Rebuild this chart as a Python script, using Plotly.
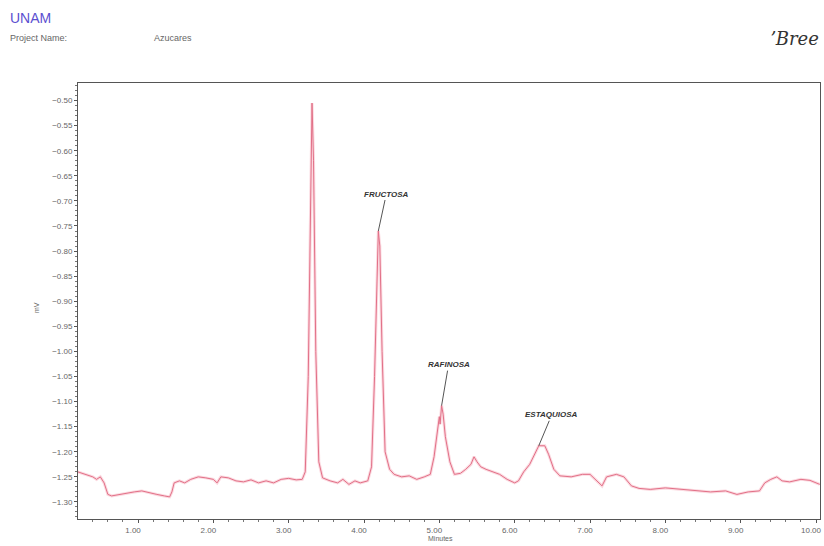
import plotly.graph_objects as go

# ---- data ----
time_min = [0.20, 0.30, 0.40, 0.45, 0.50, 0.55, 0.60, 0.65, 0.75, 0.85, 0.95, 1.05, 1.15, 1.25,
            1.35, 1.42, 1.45, 1.48, 1.55, 1.62, 1.70, 1.80, 1.90, 2.00, 2.05, 2.10, 2.20, 2.30,
            2.40, 2.50, 2.60, 2.70, 2.80, 2.90, 3.00, 3.10, 3.18, 3.22, 3.26, 3.29, 3.31, 3.33,
            3.36, 3.40, 3.45, 3.55, 3.65, 3.72, 3.80, 3.88, 3.95, 4.05, 4.10, 4.14, 4.17, 4.19,
            4.21, 4.24, 4.28, 4.31, 4.34, 4.40, 4.50, 4.60, 4.70, 4.80, 4.88, 4.93, 4.97, 5.00,
            5.01, 5.03, 5.05, 5.08, 5.14, 5.20, 5.28, 5.35, 5.42, 5.46, 5.50, 5.55, 5.62, 5.70,
            5.80, 5.90, 6.00, 6.05, 6.12, 6.20, 6.28, 6.32, 6.40, 6.45, 6.52, 6.60, 6.75, 6.90,
            7.00, 7.10, 7.16, 7.22, 7.35, 7.45, 7.55, 7.65, 7.80, 8.00, 8.20, 8.40, 8.60, 8.80,
            8.95, 9.10, 9.25, 9.32, 9.40, 9.48, 9.55, 9.65, 9.80, 9.92, 10.00, 10.05]
signal_mv = [-1.240, -1.245, -1.250, -1.255, -1.250, -1.262, -1.285, -1.288, -1.285, -1.283,
             -1.280, -1.278, -1.282, -1.285, -1.288, -1.290, -1.280, -1.262, -1.258, -1.262,
             -1.255, -1.250, -1.252, -1.255, -1.262, -1.250, -1.252, -1.258, -1.260, -1.256,
             -1.262, -1.258, -1.262, -1.255, -1.253, -1.256, -1.255, -1.240, -1.050, -0.700,
             -0.505, -0.620, -1.000, -1.220, -1.252, -1.258, -1.262, -1.255, -1.265, -1.258,
             -1.262, -1.258, -1.230, -1.050, -0.850, -0.760, -0.790, -1.000, -1.200, -1.215,
             -1.235, -1.245, -1.250, -1.248, -1.255, -1.250, -1.245, -1.210, -1.160, -1.130,
             -1.145, -1.108, -1.125, -1.170, -1.220, -1.245, -1.243, -1.235, -1.225, -1.210,
             -1.220, -1.230, -1.235, -1.240, -1.245, -1.255, -1.262, -1.258, -1.240, -1.225,
             -1.200, -1.188, -1.188, -1.205, -1.235, -1.248, -1.250, -1.245, -1.245, -1.260,
             -1.268, -1.250, -1.245, -1.250, -1.268, -1.273, -1.275, -1.272, -1.275, -1.278,
             -1.280, -1.278, -1.285, -1.280, -1.278, -1.262, -1.255, -1.250, -1.258, -1.260,
             -1.255, -1.257, -1.262, -1.265]

peak_names = ["FRUCTOSA", "RAFINOSA", "ESTAQUIOSA"]
peak_times = [4.19, 5.03, 6.32]
peak_values = [-0.760, -1.108, -1.188]

x_tick_vals = [1, 2, 3, 4, 5, 6, 7, 8, 9, 10]
y_tick_vals = [-0.50, -0.55, -0.60, -0.65, -0.70, -0.75, -0.80, -0.85, -0.90, -0.95,
               -1.00, -1.05, -1.10, -1.15, -1.20, -1.25, -1.30]

# ---- layout geometry ----
W, H = 824, 546
ML, MR, MT, MB = 78, 4, 83, 27
PW, PH = W - ML - MR, H - MT - MB


def px(xp):
    return (xp - ML) / PW


def py(yp):
    return 1 - (yp - MT) / PH


FONT = "Liberation Sans, Arial, sans-serif"

fig = go.Figure()
fig.add_trace(go.Scatter(x=time_min, y=signal_mv, mode="lines",
                         line=dict(color="rgba(245,160,178,0.40)", width=3),
                         hoverinfo="skip", showlegend=False))
fig.add_trace(go.Scatter(x=time_min, y=signal_mv, mode="lines",
                         line=dict(color="#e27087", width=1),
                         showlegend=False))

offsets = [(8, -37), (7, -41), (13, -31)]
for name, t, v, (ax, ay) in zip(peak_names, peak_times, peak_values, offsets):
    fig.add_annotation(x=t, y=v, text="<b><i>%s</i></b>" % name, showarrow=True,
                       arrowhead=0, arrowwidth=1, arrowcolor="#555", ax=ax, ay=ay,
                       font=dict(family=FONT, size=8, color="#333"))

# header texts
fig.add_annotation(xref="paper", yref="paper", x=px(8), y=py(18), xanchor="left",
                   yanchor="middle", showarrow=False, text="UNAM",
                   font=dict(family=FONT, size=14, color="#5b4fd0"))
fig.add_annotation(xref="paper", yref="paper", x=px(8), y=py(38), xanchor="left",
                   yanchor="middle", showarrow=False, text="Project Name:",
                   font=dict(family=FONT, size=9, color="#666"))
fig.add_annotation(xref="paper", yref="paper", x=px(152), y=py(38), xanchor="left",
                   yanchor="middle", showarrow=False, text="Azucares",
                   font=dict(family=FONT, size=9, color="#666"))
fig.add_annotation(xref="paper", yref="paper", x=px(821), y=py(38), xanchor="right",
                   yanchor="middle", showarrow=False, text="<i>ʼBree</i>",
                   font=dict(family="DejaVu Serif, serif", size=18, color="#333"))
fig.add_annotation(xref="paper", yref="paper", x=px(440), y=py(538), xanchor="center",
                   yanchor="middle", showarrow=False, text="Minutes",
                   font=dict(family=FONT, size=7, color="#666"))
fig.add_annotation(xref="paper", yref="paper", x=px(36), y=py(308), xanchor="center",
                   yanchor="middle", showarrow=False, text="mV", textangle=-90,
                   font=dict(family=FONT, size=7, color="#666"))

fig.update_layout(
    width=W, height=H, margin=dict(l=ML, r=MR, t=MT, b=MB, autoexpand=False),
    paper_bgcolor="white", plot_bgcolor="white",
    font=dict(family=FONT, size=8, color="#666"),
    xaxis=dict(range=[0.2035, 10.053], tickvals=x_tick_vals, tickformat=".2f",
               automargin=False, ticklabeloverflow="allow", ticklabelshift=-5,
               showgrid=False, zeroline=False, showline=True, linecolor="#555",
               linewidth=1, mirror=True, ticks="outside", ticklen=3, tickcolor="#555",
               minor=dict(dtick=0.2, ticks="outside", ticklen=2, tickcolor="#777"),
               tickfont=dict(size=8, color="#666")),
    yaxis=dict(range=[-1.334, -0.465], tickvals=y_tick_vals, tickformat=".2f",
               automargin=False,
               showgrid=False, zeroline=False, showline=True, linecolor="#555",
               linewidth=1, mirror=True, ticks="outside", ticklen=3, tickcolor="#555",
               minor=dict(dtick=0.01, ticks="outside", ticklen=2, tickcolor="#777"),
               tickfont=dict(size=8, color="#666")),
)

fig.write_html("out.html", config={"displayModeBar": False},
               post_script="document.body.style.margin='0';document.body.style.overflow='hidden';")
